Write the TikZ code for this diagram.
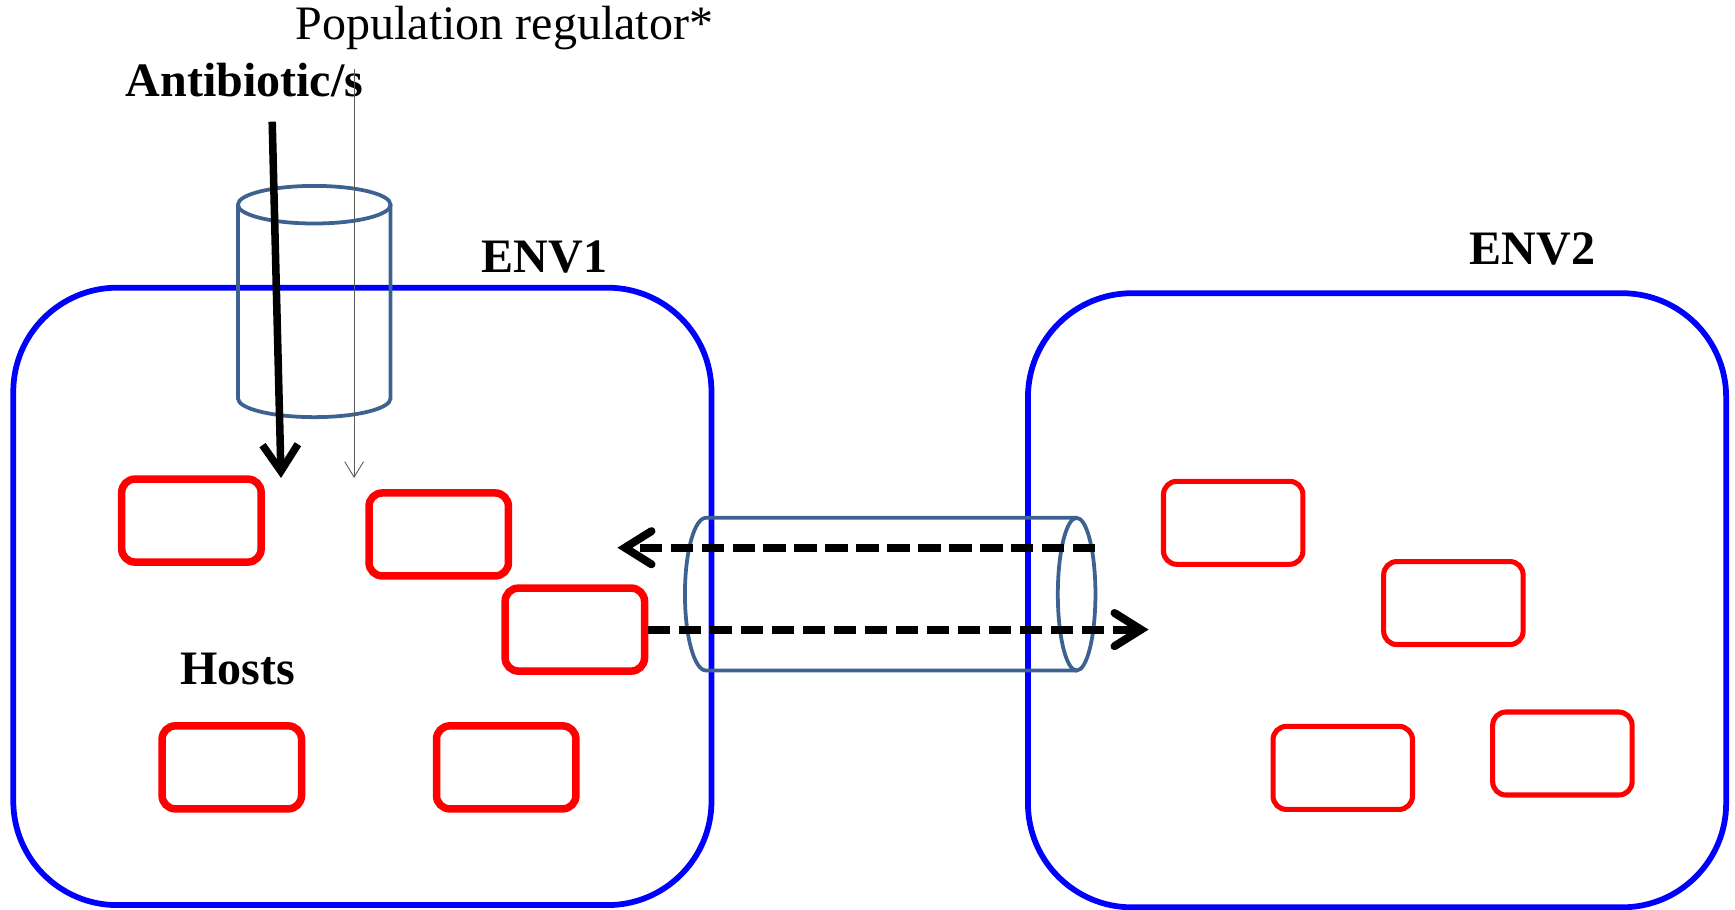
\documentclass[tikz,border=0pt]{standalone}
\usepackage{fontspec}
\setmainfont{Liberation Serif}
\usetikzlibrary{arrows.meta}
\definecolor{envblue}{RGB}{0,0,255}
\definecolor{hostred}{RGB}{255,0,0}
\definecolor{cylblue}{RGB}{61,97,144}
\definecolor{reggray}{RGB}{90,90,90}
\begin{document}
\begin{tikzpicture}[x=0.5pt,y=-0.5pt,
  env/.style={draw=envblue,line width=2.6pt,rounded corners=47pt,inner sep=0pt,minimum width=315.5pt},
  hostL/.style={draw=hostred,line width=3.4pt,rounded corners=6pt,minimum width=63pt,minimum height=37.5pt,inner sep=0pt},
  hostR/.style={hostL,line width=2.3pt},
  lbl/.style={font=\fontsize{21.7}{26}\selectfont\bfseries,inner sep=0pt},
  plain/.style={font=\fontsize{21.7}{26}\selectfont,inner sep=0pt},
  cyl/.style={draw=cylblue,line width=1.7pt},
  flow/.style={line width=3.6pt,dash pattern=on 10pt off 4pt,-{Straight Barb[length=12pt,width=15pt,line cap=round]}},
  abarrow/.style={line width=3.4pt,-{Straight Barb[length=12pt,width=16pt]}},
  regarrow/.style={draw=reggray,line width=0.4pt,-{Straight Barb[length=7pt,width=8.5pt]}}
]
\useasboundingbox (0,0) rectangle (1568,822);
% environments
\node[env,minimum height=279pt] (env1) at (327.5,539) {};
\node[env,minimum height=277.5pt] (env2) at (1244.5,542.5) {};
% hosts
\node[hostL] (h1) at (173,470.5) {};
\node[hostL] (h2) at (396.5,483) {};
\node[hostL] (h3) at (519.5,569) {};
\node[hostL] (h4) at (209.5,693.5) {};
\node[hostL] (h5) at (457.5,693.5) {};
\node[hostR] (r1) at (1114.5,472.5) {};
\node[hostR] (r2) at (1313.5,545) {};
\node[hostR] (r3) at (1213.5,694) {};
\node[hostR] (r4) at (1412,681) {};
% vertical cylinder
\draw[cyl] (284,185) ellipse [x radius=34.5pt,y radius=8.5pt];
\draw[cyl] (215,185) -- (215,360) arc[start angle=180,end angle=360,x radius=34.5pt,y radius=8.5pt] -- (353,185);
% horizontal cylinder
\draw[cyl] (973,468) -- (638,468) arc[start angle=90,end angle=270,x radius=9.5pt,y radius=34.5pt] -- (973,606);
\draw[cyl] (973,537) ellipse [x radius=8.5pt,y radius=34.5pt];
% labels
\node[plain] (pr) at (456,25) {Population regulator*};
\node[lbl] (ab) at (221,72) {Antibiotic/s};
\node[lbl] (e1) at (492,232) {ENV1};
\node[lbl] (e2) at (1385,225) {ENV2};
\node[lbl] (hosts) at (215,605) {Hosts};
% arrows
\coordinate (abS) at (246,110);
\coordinate (abE) at (254,432);
\draw[abarrow] (abS) -- (abE);
\coordinate (prS) at (320,62);
\coordinate (prE) at (320,432);
\draw[regarrow] (prS) -- (prE);
\coordinate (fl1S) at (990,495);
\coordinate (fl1E) at (558,495);
\draw[flow] (fl1S) -- (fl1E);
\coordinate (fl2E) at (1038,569);
\draw[flow] (h3.east) -- (fl2E);
\end{tikzpicture}
\end{document}
